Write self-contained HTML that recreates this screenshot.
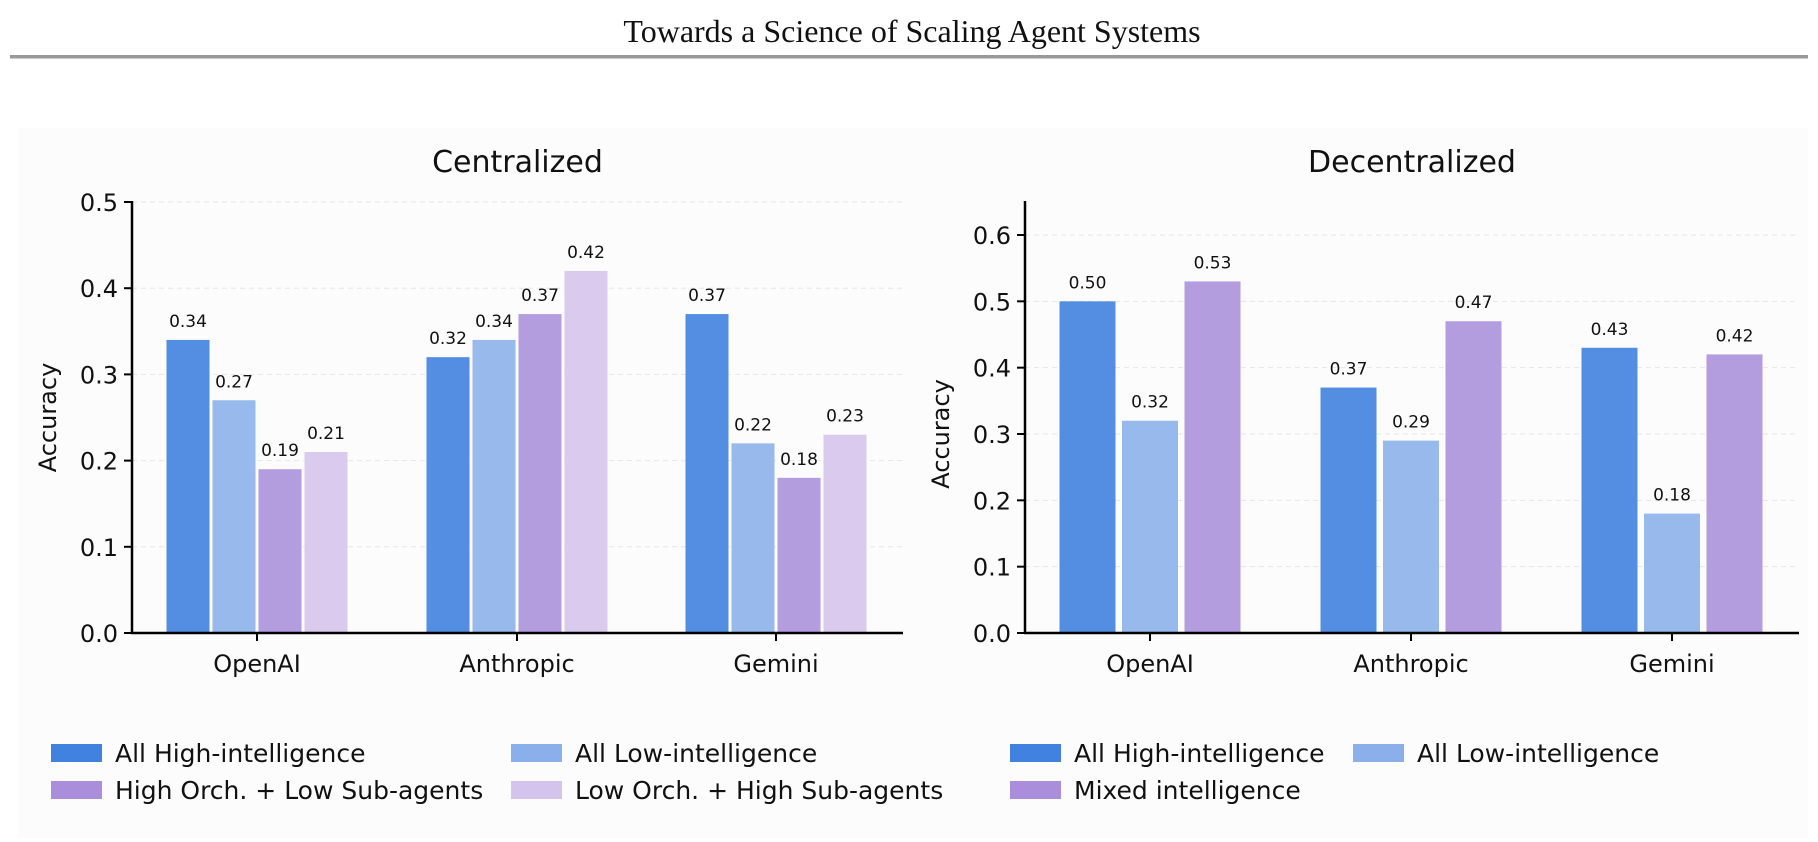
<!DOCTYPE html>
<html><head><meta charset="utf-8"><style>
body{margin:0;background:#fff;width:1818px;height:838px;overflow:hidden;font-family:"DejaVu Sans","Liberation Sans",sans-serif}
</style></head><body>
<svg width="1818" height="838" xmlns="http://www.w3.org/2000/svg">
<text x="912" y="42" text-anchor="middle" font-family="Liberation Serif, serif" font-size="32" fill="#111">Towards a Science of Scaling Agent Systems</text>
<rect x="10" y="55" width="1798" height="3.5" fill="#999"/>
<rect x="18" y="128" width="1790" height="710" fill="#fcfcfc"/>
<g id="c1"></g><g id="c2"></g>
</svg>
<script>
const categories=["OpenAI","Anthropic","Gemini"];
const centralSeries=["All High-intelligence","All Low-intelligence","High Orch. + Low Sub-agents","Low Orch. + High Sub-agents"];
const centralHigh=[0.34,0.32,0.37];
const centralLow=[0.27,0.34,0.22];
const centralHighOrch=[0.19,0.37,0.18];
const centralLowOrch=[0.21,0.42,0.23];
const centralTicks=[0,0.1,0.2,0.3,0.4,0.5];
const decSeries=["All High-intelligence","All Low-intelligence","Mixed intelligence"];
const decHigh=[0.50,0.37,0.43];
const decLow=[0.32,0.29,0.18];
const decMixed=[0.53,0.47,0.42];
const decTicks=[0,0.1,0.2,0.3,0.4,0.5,0.6];
const barCols=["#538ee3","#97b9ec","#b39ddf","#d9caee"];
const legCols=["#4181e0","#8aafea","#aa8ddb","#d4c3ec"];
const NS="http://www.w3.org/2000/svg";
function mk(p,t,a,txt){const e=document.createElementNS(NS,t);for(const k in a)e.setAttribute(k,a[k]);if(txt!==undefined)e.textContent=txt;p.appendChild(e);return e;}
function chart(g,o){
  const y=v=>o.y0-(v/o.ymax)*(o.y0-o.ytop);
  const xc=i=>o.cx[i];
  o.ticks.forEach(t=>{
    const l=mk(g,"line",{x1:o.ax,x2:o.axEnd,y1:y(t),y2:y(t),stroke:"#e6e6e6","stroke-dasharray":"5,4","stroke-width":1});
    
    
    const tk=mk(g,"line",{x1:o.ax-8,x2:o.ax,y1:y(t),y2:y(t),stroke:"#000","stroke-width":2});
    
    
    const tl=mk(g,"text",{x:o.ax-14,y:y(t)+9,"text-anchor":"end","font-size":24,fill:"#111"},t.toFixed(1));
    
    
  });
  const n=o.series.length;
  o.series.forEach((vals,s)=>{
    vals.forEach((v,i)=>{
      const bx=xc(i)+(s-(n-1)/2)*o.step-o.bw/2;
      const r=mk(g,"rect",{x:bx,y:y(v),width:o.bw,height:o.y0-y(v),fill:barCols[s]});
      
      
      const t=mk(g,"text",{x:bx+o.bw/2,y:y(v)-13,"text-anchor":"middle","font-size":17,fill:"#111"},v.toFixed(2));
      
      
    });
  });
  const ya=mk(g,"line",{x1:o.ax,x2:o.ax,y1:o.axTop,y2:o.y0+1,stroke:"#000","stroke-width":2.5});
  
  
  const xa=mk(g,"line",{x1:o.ax-1,x2:o.axEnd,y1:o.y0,y2:o.y0,stroke:"#000","stroke-width":2.5});
  
  
  categories.forEach((c,i)=>{
    const tk=mk(g,"line",{x1:xc(i),x2:xc(i),y1:o.y0,y2:o.y0+8,stroke:"#000","stroke-width":2});
    
    
    const t=mk(g,"text",{x:xc(i),y:o.y0+39,"text-anchor":"middle","font-size":24,fill:"#111"},c);
    
    
  });
  const ttl=mk(g,"text",{x:(o.ax+o.axEnd)/2,y:172,"text-anchor":"middle","font-size":30,fill:"#111"},o.title);
  
  
  const yl=mk(g,"text",{x:0,y:0,"text-anchor":"middle","font-size":24,fill:"#111",transform:`translate(${o.ax-76},${(o.y0+o.ytop)/2}) rotate(-90)`},"Accuracy");
  
  
  o.legend.forEach((name,k)=>{
    const col=k%2,row=Math.floor(k/2);
    const lx=o.legX[col],ly=744+row*37;
    const sw=mk(g,"rect",{x:lx,y:ly,width:51,height:18,fill:legCols[k]});
    
    
    const t=mk(g,"text",{x:lx+64,y:ly+18,"font-size":25,fill:"#111"},name);
    
    
  });
}
chart(document.getElementById("c1"),{ax:132,axEnd:903,y0:633,ytop:202,axTop:201,ymax:0.5,cx:[257,517,776],bw:43,step:46,
  ticks:centralTicks,series:[centralHigh,centralLow,centralHighOrch,centralLowOrch],title:"Centralized",legend:centralSeries,legX:[51,511]});
chart(document.getElementById("c2"),{ax:1025,axEnd:1799,y0:633,ytop:235,axTop:201,ymax:0.6,cx:[1150,1411,1672],bw:56,step:62.5,
  ticks:decTicks,series:[decHigh,decLow,decMixed],title:"Decentralized",legend:decSeries,legX:[1010,1353]});
</script>
</body></html>
